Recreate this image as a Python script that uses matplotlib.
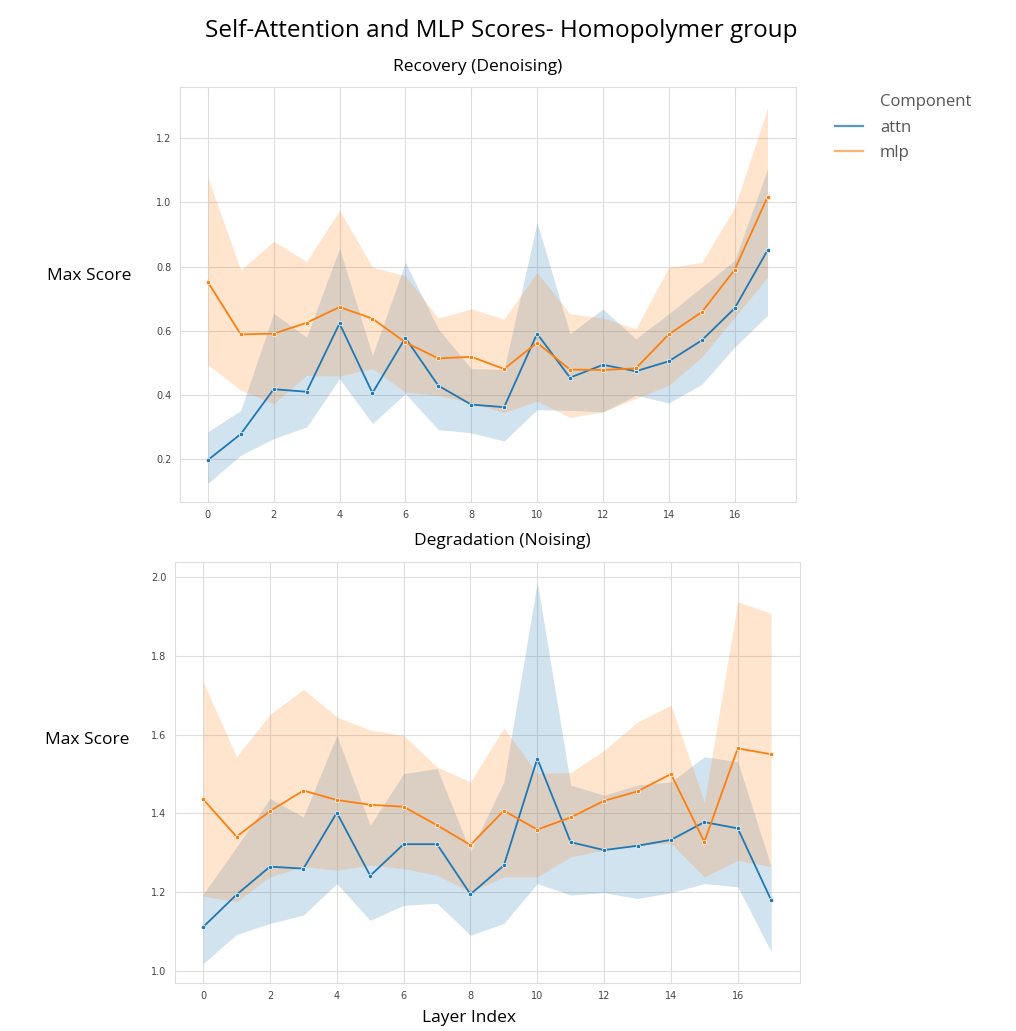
import matplotlib.pyplot as plt
from matplotlib.lines import Line2D

layers = list(range(18))

# Recovery (Denoising)
rec_attn = [0.197, 0.278, 0.418, 0.410, 0.623, 0.406, 0.578, 0.429, 0.370, 0.362,
            0.591, 0.454, 0.494, 0.474, 0.505, 0.570, 0.670, 0.851]
rec_attn_lo = [0.124, 0.212, 0.264, 0.300, 0.451, 0.311, 0.404, 0.292, 0.282, 0.256,
               0.354, 0.352, 0.347, 0.399, 0.375, 0.433, 0.549, 0.648]
rec_attn_hi = [0.285, 0.352, 0.655, 0.580, 0.857, 0.523, 0.813, 0.606, 0.482, 0.480,
               0.938, 0.591, 0.668, 0.575, 0.653, 0.736, 0.819, 1.104]
rec_mlp = [0.752, 0.589, 0.591, 0.625, 0.674, 0.638, 0.564, 0.514, 0.519, 0.481,
           0.563, 0.479, 0.478, 0.483, 0.589, 0.658, 0.790, 1.017]
rec_mlp_lo = [0.494, 0.415, 0.373, 0.461, 0.459, 0.482, 0.409, 0.399, 0.375, 0.345,
              0.381, 0.330, 0.347, 0.389, 0.430, 0.518, 0.642, 0.767]
rec_mlp_hi = [1.078, 0.790, 0.879, 0.816, 0.976, 0.798, 0.772, 0.640, 0.668, 0.637,
              0.782, 0.653, 0.640, 0.606, 0.798, 0.813, 0.984, 1.295]

# Degradation (Noising)
deg_attn = [1.112, 1.194, 1.265, 1.260, 1.402, 1.242, 1.322, 1.322, 1.195, 1.268,
            1.539, 1.327, 1.307, 1.318, 1.333, 1.378, 1.362, 1.180]
deg_attn_lo = [1.019, 1.093, 1.121, 1.142, 1.222, 1.129, 1.167, 1.172, 1.091, 1.121,
               1.222, 1.193, 1.199, 1.184, 1.199, 1.222, 1.214, 1.049]
deg_attn_hi = [1.195, 1.315, 1.438, 1.391, 1.598, 1.370, 1.501, 1.514, 1.303, 1.480,
               1.987, 1.472, 1.446, 1.472, 1.480, 1.544, 1.531, 1.265]
deg_mlp = [1.436, 1.341, 1.406, 1.458, 1.434, 1.422, 1.417, 1.370, 1.320, 1.407,
           1.359, 1.390, 1.432, 1.456, 1.500, 1.328, 1.565, 1.550]
deg_mlp_lo = [1.190, 1.176, 1.239, 1.265, 1.256, 1.269, 1.260, 1.243, 1.201, 1.239,
              1.239, 1.290, 1.307, 1.320, 1.324, 1.239, 1.281, 1.265]
deg_mlp_hi = [1.734, 1.544, 1.651, 1.715, 1.645, 1.611, 1.598, 1.518, 1.480, 1.617,
              1.501, 1.504, 1.560, 1.632, 1.675, 1.429, 1.937, 1.907]

blue = "#1f77b4"
orange = "#ff7f0e"

fig = plt.figure(figsize=(10.16, 10.31), dpi=100)
ax1 = fig.add_axes([0.177, 0.513, 0.606, 0.4026])
ax2 = fig.add_axes([0.172, 0.0466, 0.615, 0.4084])


def draw(ax, attn, attn_lo, attn_hi, mlp, mlp_lo, mlp_hi):
    ax.fill_between(layers, attn_lo, attn_hi, color=blue, alpha=0.2, lw=0)
    ax.fill_between(layers, mlp_lo, mlp_hi, color=orange, alpha=0.2, lw=0)
    ax.plot(layers, attn, color=blue, lw=1.3, marker="o", ms=3.2,
            mec="white", mew=0.5, label="attn")
    ax.plot(layers, mlp, color=orange, lw=1.3, marker="o", ms=3.2,
            mec="white", mew=0.5, label="mlp")
    ax.set_xlim(-0.85, 17.85)
    ax.set_xticks(range(0, 18, 2))
    ax.grid(True, color="#dddddd", lw=0.8)
    ax.set_axisbelow(True)
    for s in ax.spines.values():
        s.set_color("#dddddd")
    ax.tick_params(length=0, labelsize=7, labelcolor="#444444", pad=6)


draw(ax1, rec_attn, rec_attn_lo, rec_attn_hi, rec_mlp, rec_mlp_lo, rec_mlp_hi)
ax1.set_ylim(0.066, 1.36)
ax1.set_yticks([0.2, 0.4, 0.6, 0.8, 1.0, 1.2])

draw(ax2, deg_attn, deg_attn_lo, deg_attn_hi, deg_mlp, deg_mlp_lo, deg_mlp_hi)
ax2.set_ylim(0.97, 2.038)
ax2.set_yticks([1.0, 1.2, 1.4, 1.6, 1.8, 2.0])

# seaborn-style legend: title as a blank entry
blank = Line2D([], [], color="none")
h_attn = Line2D([], [], color=blue, lw=1.6, alpha=0.75)
h_mlp = Line2D([], [], color=orange, lw=1.6, alpha=0.6)
leg = fig.legend([blank, h_attn, h_mlp], ["Component", "attn", "mlp"],
                 frameon=False, loc="upper left", bbox_to_anchor=(0.807, 0.923),
                 prop={"family": "Open Sans", "size": 12}, handlelength=1.7,
                 handletextpad=1.0, labelspacing=0.55)
for t in leg.get_texts():
    t.set_color("#555555")

txt = dict(family="Open Sans", color="black")
fig.text(0.493, 0.970, "Self-Attention and MLP Scores- Homopolymer group",
         ha="center", va="center", fontsize=17.5, **txt)
fig.text(0.470, 0.935, "Recovery (Denoising)", ha="center", va="center",
         fontsize=12.5, **txt)
fig.text(0.494, 0.475, "Degradation (Noising)", ha="center", va="center",
         fontsize=12.5, **txt)
fig.text(0.088, 0.732, "Max Score", ha="center", va="center", fontsize=12.5, **txt)
fig.text(0.086, 0.282, "Max Score", ha="center", va="center", fontsize=12.5, **txt)
fig.text(0.462, 0.013, "Layer Index", ha="center", va="center", fontsize=12.5, **txt)

fig.savefig("out.png", dpi=100)
